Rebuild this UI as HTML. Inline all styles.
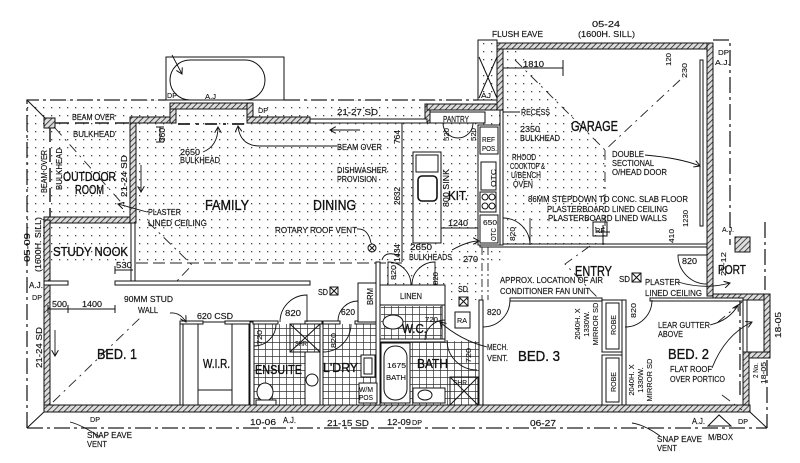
<!DOCTYPE html>
<html><head><meta charset="utf-8"><style>
html,body{margin:0;padding:0;background:#fff}
svg{display:block}
text{font-family:"Liberation Sans",sans-serif;fill:#111}
.s{font-size:8.5px;stroke:#111;stroke-width:0.15}
.xs{font-size:7.5px;stroke:#111;stroke-width:0.1}
.m{font-size:13px;stroke:#111;stroke-width:0.35}
.l{font-size:14.5px;stroke:#111;stroke-width:0.35}
.w{fill:url(#h);stroke:#111;stroke-width:1}
.t{fill:none;stroke:#111;stroke-width:1}
.tw{fill:#fff;stroke:#111;stroke-width:1}
.e{fill:none;stroke:#222;stroke-width:1.3;stroke-dasharray:16 4 3 4}
.hp{fill:none;stroke:#222;stroke-width:0.9;stroke-dasharray:10 5 2 5}
.ld{fill:none;stroke:#111;stroke-width:0.9}
</style></head><body>
<svg width="800" height="463" viewBox="0 0 800 463" xmlns="http://www.w3.org/2000/svg">
<defs>
<pattern id="h" width="4" height="4" patternUnits="userSpaceOnUse" patternTransform="rotate(45)"><rect width="4" height="4" fill="#ddd"/><line x1="0" y1="0" x2="0" y2="4" stroke="#222" stroke-width="1.6"/></pattern>
<pattern id="d" width="8" height="8" patternUnits="userSpaceOnUse"><rect x="3" y="3" width="1.3" height="1.3" fill="#444"/></pattern>
<pattern id="g" width="7" height="7" patternUnits="userSpaceOnUse"><path d="M6.5 0V7M0 6.5H7" stroke="#333" stroke-width="0.7" fill="none"/></pattern>
<marker id="a" markerWidth="7" markerHeight="7" refX="6" refY="3.5" orient="auto" markerUnits="userSpaceOnUse"><path d="M0 0L6 3.5L0 7" fill="none" stroke="#111" stroke-width="1"/></marker>
</defs>
<rect width="800" height="463" fill="#fff"/>

<!-- dotted areas -->
<rect x="27" y="100" width="476" height="165" fill="url(#d)"/>
<rect x="380" y="262" width="100" height="38" fill="url(#d)"/>
<rect x="478" y="40" width="19" height="60" fill="url(#d)"/>
<polygon points="503,49 515,49 605,150 605,245 503,245" fill="url(#d)"/>

<!-- tile grids -->
<rect x="253" y="324" width="67" height="81" fill="url(#g)"/>
<rect x="323" y="324" width="53" height="81" fill="url(#g)"/>
<rect x="381" y="306" width="61" height="34" fill="url(#g)"/>
<rect x="381" y="341" width="98" height="64" fill="url(#g)"/>

<!-- eaves -->
<path class="e" d="M27 428V100H166"/>
<path class="e" d="M284 100H478"/>
<path class="e" d="M27 428H767"/>
<path class="e" d="M713 40H730V245"/>
<path class="e" d="M767 360V428"/>
<path class="e" d="M765 222V290"/>
<path class="e" d="M740 300V395"/>
<path class="t" d="M27 428L45 411M27 100L45 118M750 412L767 428"/>

<!-- tub outside -->
<rect x="166" y="57" width="118" height="43" class="t"/>
<rect x="170" y="60" width="95" height="40" rx="20" class="t"/>
<path class="ld" d="M172 55L182 74" marker-end="url(#a)"/>

<!-- eave box -->
<rect x="478" y="40" width="19" height="60" class="t"/>
<path class="t" d="M479 57L497 98M497 57L479 98"/>

<!-- outer walls -->
<rect class="w" x="44" y="217" width="92" height="6"/>
<rect class="w" x="44" y="220" width="6" height="192"/>
<rect class="w" x="130" y="117" width="6" height="106"/>
<rect class="w" x="130" y="117" width="45" height="6"/>
<rect class="w" x="170" y="103" width="6" height="20"/>
<rect class="w" x="170" y="103" width="83" height="6"/>
<rect class="w" x="247" y="103" width="6" height="20"/>
<rect class="w" x="247" y="117" width="63" height="6"/>
<rect class="w" x="425" y="104" width="5" height="19"/>
<rect class="w" x="427" y="104" width="76" height="6"/>
<rect class="w" x="497" y="43" width="6" height="67"/>
<rect class="w" x="497" y="43" width="216" height="6"/>
<rect class="w" x="707" y="43" width="6" height="253"/>
<rect class="w" x="713" y="294" width="57" height="6"/>
<rect class="w" x="764" y="294" width="6" height="64"/>
<rect class="w" x="743" y="352" width="27" height="6"/>
<rect class="tw" x="743" y="300" width="4" height="52"/>
<rect class="w" x="743" y="352" width="6" height="60"/>
<rect class="w" x="44" y="405" width="706" height="7"/>
<rect class="w" x="44" y="118" width="11" height="10"/>
<path d="M55 123H130" stroke="#222" stroke-width="1.5" stroke-dasharray="14 6" fill="none"/>
<path d="M50 128V217" stroke="#222" stroke-width="1.5" stroke-dasharray="14 6" fill="none"/>
<path d="M178 124H247" stroke="#222" stroke-width="1.8" stroke-dasharray="12 6 3 6" fill="none"/>

<!-- interior walls -->
<rect class="tw" x="310" y="119" width="117" height="4"/>
<rect class="tw" x="430" y="112" width="55" height="11"/>
<rect class="tw" x="131" y="223" width="4" height="59"/>
<rect class="tw" x="115" y="281" width="195" height="4"/>
<rect class="tw" x="44" y="281" width="24" height="4"/>
<path d="M136 263H402" stroke="#222" stroke-width="1" stroke-dasharray="12 5" fill="none"/>

<!-- WIR -->
<rect class="t" x="180" y="322" width="72" height="83"/>
<rect class="tw" x="180" y="321" width="23" height="3"/>
<rect class="tw" x="225" y="321" width="27" height="3"/>
<rect class="t" x="183" y="324" width="15" height="81"/>
<rect class="t" x="232" y="324" width="17" height="81"/>
<path class="t" d="M198 390H232"/>

<!-- ensuite -->
<rect class="tw" x="250" y="322" width="4" height="83"/>
<rect class="tw" x="320" y="322" width="3" height="83"/>
<rect class="tw" x="253" y="321" width="25" height="3"/>
<rect class="tw" x="305" y="321" width="17" height="3"/>
<rect class="t" x="290" y="324" width="30" height="28"/>
<path class="t" d="M290 324L320 352M320 324L290 352"/>
<ellipse class="tw" cx="265" cy="392" rx="8" ry="9"/>
<rect class="tw" x="256" y="400" width="20" height="5"/>
<rect class="tw" x="305" y="352" width="15" height="53"/>
<circle class="t" cx="312" cy="380" r="6"/>

<!-- laundry / brm / linen / wc / bath -->
<rect class="tw" x="323" y="321" width="17" height="3"/>
<rect class="tw" x="355" y="321" width="21" height="3"/>
<rect class="tw" x="358" y="283" width="20" height="39"/>
<rect class="tw" x="376" y="262" width="4" height="143"/>
<rect class="tw" x="361" y="355" width="14" height="22"/>
<rect class="t" x="364" y="358" width="8" height="16"/>
<rect class="tw" x="359" y="383" width="18" height="20"/>
<rect class="tw" x="380" y="285" width="65" height="20"/>
<rect class="t" x="380" y="305" width="62" height="35"/>
<rect class="tw" x="442" y="305" width="3" height="35"/>
<rect class="tw" x="380" y="339" width="65" height="3"/>
<ellipse class="tw" cx="393" cy="322" rx="10" ry="7"/>
<rect class="tw" x="381" y="343" width="29" height="60"/>
<rect class="t" x="384" y="346" width="23" height="54" rx="11"/>
<rect class="tw" x="413" y="388" width="32" height="15"/>
<ellipse class="t" cx="425" cy="395" rx="7" ry="5"/>
<rect class="t" x="450" y="377" width="28" height="28"/>
<path class="t" d="M450 377L478 405M478 377L450 405"/>
<rect class="tw" x="455" y="312" width="15" height="16"/>

<!-- bed 3 / robes / bed 2 / entry -->
<rect class="tw" x="479" y="300" width="4" height="105"/>
<rect class="tw" x="510" y="298" width="92" height="3"/>
<rect class="tw" x="602" y="300" width="20" height="52"/>
<rect class="tw" x="602" y="355" width="20" height="50"/>
<rect class="t" x="606" y="303" width="13" height="46"/>
<rect class="t" x="606" y="358" width="13" height="44"/>
<rect class="tw" x="622" y="300" width="4" height="105"/>
<rect class="tw" x="650" y="298" width="93" height="3"/>
<rect class="tw" x="480" y="244" width="227" height="3"/>
<path d="M482 247V300M488 247V300" stroke="#222" stroke-width="0.9" stroke-dasharray="8 3 2 3" fill="none"/>
<rect class="w" x="735" y="237" width="15" height="15"/>

<!-- kitchen -->
<path class="t" d="M402 123V262"/>
<rect class="tw" x="500" y="110" width="3" height="135"/>
<rect class="t" x="413" y="152" width="28" height="91"/>
<rect class="tw" x="416" y="155" width="22" height="17"/>
<rect x="418" y="176" width="19" height="25" rx="4" fill="#fff" stroke="#111" stroke-width="1.6"/>
<rect class="tw" x="478" y="125" width="22" height="120"/>
<rect class="t" x="480" y="127" width="18" height="27"/>
<rect class="t" x="481" y="162" width="15" height="28"/>
<rect class="t" x="480" y="192" width="16" height="20"/>
<circle class="t" cx="485" cy="197" r="3"/><circle class="t" cx="492" cy="197" r="3"/>
<circle class="t" cx="485" cy="206" r="3"/><circle class="t" cx="492" cy="206" r="3"/>
<rect class="t" x="480" y="215" width="18" height="28"/>

<!-- garage -->
<rect class="tw" x="700" y="60" width="3" height="166"/>
<rect class="t" x="593" y="222" width="14" height="14"/>
<path class="t" d="M503 68H563M563 60V76M603 225V245M596 232H610"/>

<!-- hip lines -->
<path class="hp" d="M55 128L128 210"/>
<path class="hp" d="M148 222L192 265L175 283"/>
<path class="hp" d="M53 402L140 318"/>
<path class="hp" d="M515 60L605 150L680 80"/>
<path class="hp" d="M605 150V230"/>
<path class="hp" d="M590 246L565 264L598 298"/>
<path class="hp" d="M742 302L718 322M722 395L742 410"/>

<!-- doors -->
<path class="ld" d="M510 300A27 27 0 0 1 483 327"/>
<path class="ld" d="M652 300A27 27 0 0 1 625 327"/>
<path class="ld" d="M707 255H678A29 29 0 0 0 707 284"/>
<path class="ld" d="M503 218A27 27 0 0 1 530 245M530 218V245"/>
<path class="ld" d="M443 123A15 15 0 0 0 458 138M473 123A15 15 0 0 1 458 138"/>
<path class="ld" d="M388 285V262A23 23 0 0 1 411 285M435 285V262A23 23 0 0 0 412 285"/>
<path class="ld" d="M280 322A27 27 0 0 1 307 295V322"/>
<path class="ld" d="M338 321A20 20 0 0 1 358 301V321"/>
<path class="ld" d="M254 346A22 22 0 0 0 276 324"/>
<path class="ld" d="M323 352A28 28 0 0 0 351 324"/>
<path class="ld" d="M425 340A20 20 0 0 1 445 320"/>
<path class="ld" d="M447 340A30 30 0 0 0 477 370"/>

<!-- symbols -->
<rect class="t" x="330" y="287" width="8" height="8"/><path class="t" d="M330 287L338 295M338 287L330 295"/>
<rect class="t" x="459" y="297" width="9" height="9"/><path class="t" d="M459 297L468 306M468 297L459 306"/>
<rect class="t" x="632" y="273" width="9" height="9"/><path class="t" d="M632 273L641 282M641 273L632 282"/>
<circle class="t" cx="372" cy="248" r="4"/><path class="t" d="M369 245L375 251M375 245L369 251"/>

<!-- arrows / leaders -->
<path class="ld" d="M337 146H260Q240 146 238 126" marker-end="url(#a)"/>
<path class="ld" d="M203 152Q218 146 218 127" marker-end="url(#a)"/>
<path class="ld" d="M147 212L118 204" marker-end="url(#a)"/>
<path class="ld" d="M645 155Q680 158 700 166" marker-end="url(#a)"/>
<path class="ld" d="M520 112H503"/>
<path class="ld" d="M141 165V192" marker-end="url(#a)"/>
<path class="ld" d="M55 330V356" marker-end="url(#a)"/>
<path class="ld" d="M360 130H330" marker-end="url(#a)"/>
<path class="ld" d="M357 229Q368 228 371 243"/>
<path class="ld" d="M487 347Q460 340 440 322" marker-end="url(#a)"/>
<path class="ld" d="M712 368Q725 335 752 322" marker-end="url(#a)"/>
<path class="ld" d="M710 325Q730 320 738 305" marker-end="url(#a)"/>
<path class="ld" d="M678 282Q705 290 730 283" marker-end="url(#a)"/>
<path class="ld" d="M452 250Q468 241 479 241" marker-end="url(#a)"/>
<path class="ld" d="M400 256Q385 250 382 260"/>
<path class="ld" d="M170 313Q180 312 186 322" marker-end="url(#a)"/>
<path class="ld" d="M100 437Q82 425 70 422"/>
<path class="ld" d="M660 436Q645 425 632 423"/>
<path class="t" d="M48 309H115M48 305V313M68 305V313M115 305V313M115 270H133M115 266V274"/>
<path class="t" d="M441 228H478"/>
<path class="t" d="M160 127V142M156 127H164M156 142H164"/>
<polygon points="708,426 719,415 731,426" fill="none" stroke="#111"/>

<!-- large labels -->
<text class="l" x="205" y="210" textLength="44" lengthAdjust="spacingAndGlyphs">FAMILY</text>
<text class="l" x="313" y="210" textLength="43" lengthAdjust="spacingAndGlyphs">DINING</text>
<text class="m" x="63" y="181" textLength="53" lengthAdjust="spacingAndGlyphs">OUTDOOR</text>
<text class="m" x="75" y="194" textLength="29" lengthAdjust="spacingAndGlyphs">ROOM</text>
<text class="m" x="53" y="256" textLength="75" lengthAdjust="spacingAndGlyphs">STUDY NOOK</text>
<text class="l" x="97" y="359" textLength="40" lengthAdjust="spacingAndGlyphs">BED. 1</text>
<text class="m" x="203" y="368" textLength="27" lengthAdjust="spacingAndGlyphs">W.I.R.</text>
<text class="m" x="255" y="374" textLength="47" lengthAdjust="spacingAndGlyphs">ENSUITE</text>
<text class="m" x="323" y="372" textLength="35" lengthAdjust="spacingAndGlyphs">L'DRY</text>
<text class="m" x="417" y="368" textLength="31" lengthAdjust="spacingAndGlyphs">BATH</text>
<text class="m" x="402" y="333" textLength="25" lengthAdjust="spacingAndGlyphs">W.C.</text>
<text class="m" x="448" y="200" textLength="20" lengthAdjust="spacingAndGlyphs">KIT.</text>
<text class="l" x="571" y="131" textLength="47" lengthAdjust="spacingAndGlyphs">GARAGE</text>
<text class="l" x="575" y="276" textLength="37" lengthAdjust="spacingAndGlyphs">ENTRY</text>
<text class="l" x="518" y="361" textLength="42" lengthAdjust="spacingAndGlyphs">BED. 3</text>
<text class="l" x="668" y="359" textLength="41" lengthAdjust="spacingAndGlyphs">BED. 2</text>
<text class="m" x="718" y="274" textLength="28" lengthAdjust="spacingAndGlyphs">PORT</text>

<!-- small labels -->
<text class="s" x="72" y="120" textLength="43" lengthAdjust="spacingAndGlyphs">BEAM OVER</text>
<text class="s" x="73" y="137" textLength="42" lengthAdjust="spacingAndGlyphs">BULKHEAD</text>
<text class="s" x="180" y="155" textLength="20" lengthAdjust="spacingAndGlyphs">2650</text>
<text class="s" x="180" y="163" textLength="40" lengthAdjust="spacingAndGlyphs">BULKHEAD</text>
<text class="s" x="337" y="115" textLength="41" lengthAdjust="spacingAndGlyphs">21-27 SD</text>
<text class="s" x="337" y="150" textLength="45" lengthAdjust="spacingAndGlyphs">BEAM OVER</text>
<text class="s" x="337" y="173" textLength="50" lengthAdjust="spacingAndGlyphs">DISHWASHER</text>
<text class="s" x="337" y="182" textLength="40" lengthAdjust="spacingAndGlyphs">PROVISION</text>
<text class="s" x="148" y="215" textLength="33" lengthAdjust="spacingAndGlyphs">PLASTER</text>
<text class="s" x="148" y="226" textLength="59" lengthAdjust="spacingAndGlyphs">LINED CEILING</text>
<text class="s" x="275" y="233" textLength="82" lengthAdjust="spacingAndGlyphs">ROTARY ROOF VENT</text>
<text class="s" x="116" y="268" textLength="16" lengthAdjust="spacingAndGlyphs">530</text>
<text class="s" x="52" y="307" textLength="15" lengthAdjust="spacingAndGlyphs">500</text>
<text class="s" x="82" y="307" textLength="20" lengthAdjust="spacingAndGlyphs">1400</text>
<text class="s" x="124" y="302" textLength="49" lengthAdjust="spacingAndGlyphs">90MM STUD</text>
<text class="s" x="138" y="313" textLength="20" lengthAdjust="spacingAndGlyphs">WALL</text>
<text class="s" x="197" y="319" textLength="36" lengthAdjust="spacingAndGlyphs">620 CSD</text>
<text class="s" x="285" y="316" textLength="16" lengthAdjust="spacingAndGlyphs">820</text>
<text class="s" x="341" y="315" textLength="14" lengthAdjust="spacingAndGlyphs">620</text>
<text class="s" x="318" y="295" textLength="10" lengthAdjust="spacingAndGlyphs">SD</text>
<text class="xs" x="359" y="392" textLength="14" lengthAdjust="spacingAndGlyphs">W/M</text>
<text class="xs" x="359" y="400" textLength="14" lengthAdjust="spacingAndGlyphs">POS</text>
<text class="s" x="250" y="425" textLength="26" lengthAdjust="spacingAndGlyphs">10-06</text>
<text class="s" x="283" y="423" textLength="13" lengthAdjust="spacingAndGlyphs">A.J.</text>
<text class="s" x="327" y="426" textLength="42" lengthAdjust="spacingAndGlyphs">21-15 SD</text>
<text class="s" x="387" y="425" textLength="24" lengthAdjust="spacingAndGlyphs">12-09</text>
<text class="xs" x="412" y="425" textLength="10" lengthAdjust="spacingAndGlyphs">DP</text>
<text class="xs" x="90" y="422" textLength="10" lengthAdjust="spacingAndGlyphs">DP</text>
<text class="s" x="87" y="438" textLength="45" lengthAdjust="spacingAndGlyphs">SNAP EAVE</text>
<text class="s" x="87" y="447" textLength="20" lengthAdjust="spacingAndGlyphs">VENT</text>
<text class="s" x="530" y="426" textLength="26" lengthAdjust="spacingAndGlyphs">06-27</text>
<text class="s" x="657" y="442" textLength="45" lengthAdjust="spacingAndGlyphs">SNAP EAVE</text>
<text class="s" x="657" y="451" textLength="20" lengthAdjust="spacingAndGlyphs">VENT</text>
<text class="s" x="708" y="440" textLength="25" lengthAdjust="spacingAndGlyphs">M/BOX</text>
<text class="s" x="692" y="424" textLength="13" lengthAdjust="spacingAndGlyphs">A.J.</text>
<text class="xs" x="738" y="424" textLength="10" lengthAdjust="spacingAndGlyphs">DP</text>
<text class="s" x="487" y="350" textLength="21" lengthAdjust="spacingAndGlyphs">MECH.</text>
<text class="s" x="487" y="361" textLength="21" lengthAdjust="spacingAndGlyphs">VENT.</text>
<text class="xs" x="457" y="323" textLength="10" lengthAdjust="spacingAndGlyphs">RA</text>
<text class="s" x="400" y="299" textLength="22" lengthAdjust="spacingAndGlyphs">LINEN</text>
<text class="xs" x="425" y="322" textLength="13" lengthAdjust="spacingAndGlyphs">720</text>
<text class="s" x="458" y="292" textLength="10" lengthAdjust="spacingAndGlyphs">SD</text>
<text class="s" x="487" y="315" textLength="14" lengthAdjust="spacingAndGlyphs">820</text>
<text class="xs" x="387" y="368" textLength="19" lengthAdjust="spacingAndGlyphs">1675</text>
<text class="xs" x="386" y="380" textLength="20" lengthAdjust="spacingAndGlyphs">BATH</text>
<text class="xs" x="453" y="385" textLength="14" lengthAdjust="spacingAndGlyphs">SHR</text>
<text class="xs" x="295" y="346" textLength="12" lengthAdjust="spacingAndGlyphs">SHR</text>
<text class="s" x="410" y="250" textLength="22" lengthAdjust="spacingAndGlyphs">2650</text>
<text class="s" x="409" y="260" textLength="43" lengthAdjust="spacingAndGlyphs">BULKHEADS</text>
<text class="s" x="463" y="262" textLength="15" lengthAdjust="spacingAndGlyphs">270</text>
<text class="s" x="500" y="283" textLength="103" lengthAdjust="spacingAndGlyphs">APPROX. LOCATION OF AIR</text>
<text class="s" x="500" y="294" textLength="90" lengthAdjust="spacingAndGlyphs">CONDITIONER FAN UNIT</text>
<text class="s" x="619" y="282" textLength="11" lengthAdjust="spacingAndGlyphs">SD</text>
<text class="s" x="645" y="285" textLength="35" lengthAdjust="spacingAndGlyphs">PLASTER</text>
<text class="s" x="645" y="296" textLength="57" lengthAdjust="spacingAndGlyphs">LINED CEILING</text>
<text class="s" x="682" y="264" textLength="15" lengthAdjust="spacingAndGlyphs">820</text>
<text class="s" x="658" y="328" textLength="52" lengthAdjust="spacingAndGlyphs">LEAR GUTTER</text>
<text class="s" x="658" y="337" textLength="25" lengthAdjust="spacingAndGlyphs">ABOVE</text>
<text class="s" x="670" y="372" textLength="42" lengthAdjust="spacingAndGlyphs">FLAT ROOF</text>
<text class="s" x="670" y="382" textLength="55" lengthAdjust="spacingAndGlyphs">OVER PORTICO</text>
<text class="s" x="492" y="37" textLength="51" lengthAdjust="spacingAndGlyphs">FLUSH EAVE</text>
<text class="s" x="592" y="27" textLength="28" lengthAdjust="spacingAndGlyphs">05-24</text>
<text class="s" x="578" y="37" textLength="57" lengthAdjust="spacingAndGlyphs">(1600H. SILL)</text>
<text class="s" x="523" y="67" textLength="21" lengthAdjust="spacingAndGlyphs">1810</text>
<text class="xs" x="718" y="55" textLength="11" lengthAdjust="spacingAndGlyphs">DP</text>
<text class="xs" x="715" y="65" textLength="15" lengthAdjust="spacingAndGlyphs">A.J.</text>
<text class="xs" x="481" y="98" textLength="10" lengthAdjust="spacingAndGlyphs">AJ</text>
<text class="xs" x="167" y="98" textLength="10" lengthAdjust="spacingAndGlyphs">DP</text>
<text class="xs" x="205" y="99" textLength="11" lengthAdjust="spacingAndGlyphs">A.J</text>
<text class="xs" x="258" y="113" textLength="10" lengthAdjust="spacingAndGlyphs">DP</text>
<text class="xs" x="722" y="232" textLength="12" lengthAdjust="spacingAndGlyphs">A.J.</text>
<text class="s" x="521" y="115" textLength="29" lengthAdjust="spacingAndGlyphs">RECESS</text>
<text class="s" x="520" y="132" textLength="20" lengthAdjust="spacingAndGlyphs">2350</text>
<text class="s" x="520" y="141" textLength="40" lengthAdjust="spacingAndGlyphs">BULKHEAD</text>
<text class="s" x="512" y="160" textLength="24" lengthAdjust="spacingAndGlyphs">RHOOD</text>
<text class="s" x="510" y="169" textLength="35" lengthAdjust="spacingAndGlyphs">COOKTOP &amp;</text>
<text class="s" x="511" y="178" textLength="30" lengthAdjust="spacingAndGlyphs">U/BENCH</text>
<text class="s" x="513" y="187" textLength="20" lengthAdjust="spacingAndGlyphs">OVEN</text>
<text class="s" x="612" y="157" textLength="32" lengthAdjust="spacingAndGlyphs">DOUBLE</text>
<text class="s" x="612" y="166" textLength="42" lengthAdjust="spacingAndGlyphs">SECTIONAL</text>
<text class="s" x="612" y="175" textLength="55" lengthAdjust="spacingAndGlyphs">O/HEAD DOOR</text>
<text class="s" x="528" y="202" textLength="160" lengthAdjust="spacingAndGlyphs">86MM STEPDOWN TO CONC. SLAB FLOOR</text>
<text class="s" x="547" y="212" textLength="121" lengthAdjust="spacingAndGlyphs">PLASTERBOARD LINED CEILING</text>
<text class="s" x="548" y="221" textLength="119" lengthAdjust="spacingAndGlyphs">PLASTERBOARD LINED WALLS</text>
<text class="xs" x="595" y="233" textLength="10" lengthAdjust="spacingAndGlyphs">RF</text>
<text class="s" x="443" y="122" textLength="26" lengthAdjust="spacingAndGlyphs">PANTRY</text>
<text class="xs" x="482" y="142" textLength="13" lengthAdjust="spacingAndGlyphs">REF</text>
<text class="xs" x="482" y="151" textLength="15" lengthAdjust="spacingAndGlyphs">POS.</text>
<text class="s" x="448" y="226" textLength="20" lengthAdjust="spacingAndGlyphs">1240</text>
<text class="xs" x="483" y="225" textLength="14" lengthAdjust="spacingAndGlyphs">650</text>
<text class="s" x="29" y="288" textLength="14" lengthAdjust="spacingAndGlyphs">A.J.</text>
<text class="xs" x="32" y="300" textLength="10" lengthAdjust="spacingAndGlyphs">DP</text>

<!-- vertical labels -->
<text class="s" transform="translate(47,193) rotate(-90)" textLength="43" lengthAdjust="spacingAndGlyphs">BEAM OVER</text>
<text class="s" transform="translate(62,190) rotate(-90)" textLength="42" lengthAdjust="spacingAndGlyphs">BULKHEAD</text>
<text class="s" transform="translate(127,197) rotate(-90)" textLength="42" lengthAdjust="spacingAndGlyphs">21-24 SD</text>
<text class="s" transform="translate(165,142) rotate(-90)" textLength="14" lengthAdjust="spacingAndGlyphs">360</text>
<text class="s" transform="translate(400,144) rotate(-90)" textLength="14" lengthAdjust="spacingAndGlyphs">764</text>
<text class="s" transform="translate(400,205) rotate(-90)" textLength="18" lengthAdjust="spacingAndGlyphs">2632</text>
<text class="s" transform="translate(400,262) rotate(-90)" textLength="18" lengthAdjust="spacingAndGlyphs">1434</text>
<text class="s" transform="translate(30,262) rotate(-90)" textLength="29" lengthAdjust="spacingAndGlyphs">05-09</text>
<text class="s" transform="translate(41,272) rotate(-90)" textLength="55" lengthAdjust="spacingAndGlyphs">(1600H. SILL)</text>
<text class="s" transform="translate(42,368) rotate(-90)" textLength="41" lengthAdjust="spacingAndGlyphs">21-24 SD</text>
<text class="xs" transform="translate(262,345) rotate(-90)" textLength="15" lengthAdjust="spacingAndGlyphs">720</text>
<text class="xs" transform="translate(336,348) rotate(-90)" textLength="15" lengthAdjust="spacingAndGlyphs">820</text>
<text class="s" transform="translate(373,305) rotate(-90)" textLength="17" lengthAdjust="spacingAndGlyphs">BRM</text>
<text class="xs" transform="translate(396,280) rotate(-90)" textLength="15" lengthAdjust="spacingAndGlyphs">820</text>
<text class="xs" transform="translate(438,285) rotate(-90)" textLength="13" lengthAdjust="spacingAndGlyphs">820</text>
<text class="xs" transform="translate(471,363) rotate(-90)" textLength="15" lengthAdjust="spacingAndGlyphs">720</text>
<text class="xs" transform="translate(515,241) rotate(-90)" textLength="14" lengthAdjust="spacingAndGlyphs">820</text>
<text class="xs" transform="translate(449,141) rotate(-90)" textLength="13" lengthAdjust="spacingAndGlyphs">520</text>
<text class="xs" transform="translate(476,141) rotate(-90)" textLength="13" lengthAdjust="spacingAndGlyphs">520</text>
<text class="s" transform="translate(449,207) rotate(-90)" textLength="38" lengthAdjust="spacingAndGlyphs">800 SINK</text>
<text class="xs" transform="translate(496,187) rotate(-90)" textLength="18" lengthAdjust="spacingAndGlyphs">OTC</text>
<text class="xs" transform="translate(496,241) rotate(-90)" textLength="13" lengthAdjust="spacingAndGlyphs">OTC</text>
<text class="xs" transform="translate(671,66) rotate(-90)" textLength="13" lengthAdjust="spacingAndGlyphs">120</text>
<text class="xs" transform="translate(687,78) rotate(-90)" textLength="15" lengthAdjust="spacingAndGlyphs">230</text>
<text class="xs" transform="translate(688,227) rotate(-90)" textLength="17" lengthAdjust="spacingAndGlyphs">1230</text>
<text class="xs" transform="translate(674,243) rotate(-90)" textLength="14" lengthAdjust="spacingAndGlyphs">410</text>
<text class="xs" transform="translate(580,324) rotate(-90)" text-anchor="middle">2040H. X</text>
<text class="xs" transform="translate(589,324) rotate(-90)" text-anchor="middle">1330W.</text>
<text class="xs" transform="translate(598,324) rotate(-90)" text-anchor="middle">MIRROR SD</text>
<text class="xs" transform="translate(616,335) rotate(-90)" textLength="20" lengthAdjust="spacingAndGlyphs">ROBE</text>
<text class="xs" transform="translate(616,392) rotate(-90)" textLength="20" lengthAdjust="spacingAndGlyphs">ROBE</text>
<text class="xs" transform="translate(634,380) rotate(-90)" text-anchor="middle">2040H. X</text>
<text class="xs" transform="translate(643,380) rotate(-90)" text-anchor="middle">1330W.</text>
<text class="xs" transform="translate(652,380) rotate(-90)" text-anchor="middle">MIRROR SD</text>
<text class="xs" transform="translate(636,318) rotate(-90)" textLength="15" lengthAdjust="spacingAndGlyphs">820</text>
<text class="s" transform="translate(781,338) rotate(-90)" textLength="26" lengthAdjust="spacingAndGlyphs">18-05</text>
<text class="xs" transform="translate(758,378) rotate(-90)" textLength="15" lengthAdjust="spacingAndGlyphs">2 No.</text>
<text class="xs" transform="translate(766,384) rotate(-90)" textLength="22" lengthAdjust="spacingAndGlyphs">18-05</text>
<text class="xs" transform="translate(726,276) rotate(-90)" textLength="24" lengthAdjust="spacingAndGlyphs">21-12</text>
</svg>
</body></html>
